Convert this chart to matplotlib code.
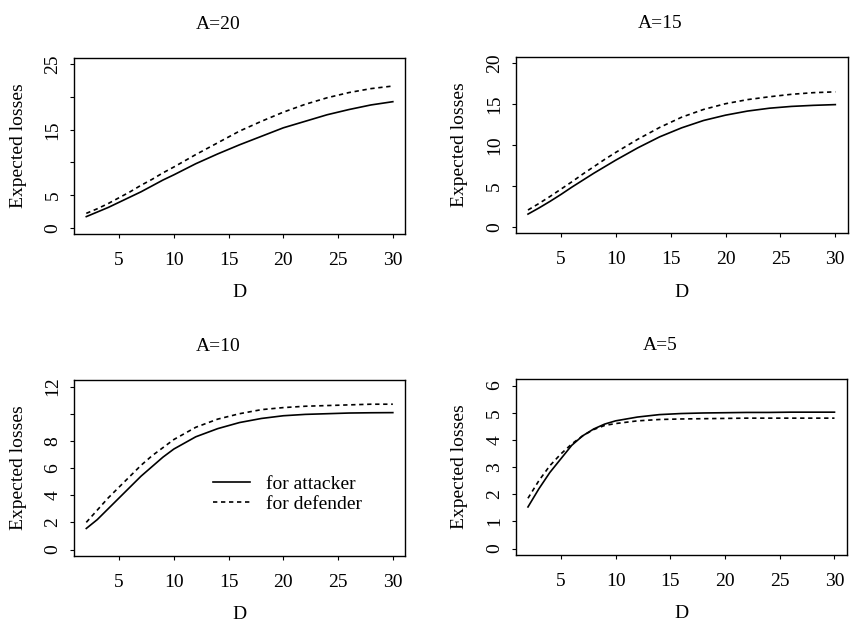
import matplotlib.pyplot as plt

plt.rcParams['font.family'] = ['Liberation Serif', 'DejaVu Serif']
plt.rcParams['font.size'] = 14

# number of defending armies
D = [2, 3, 4, 5, 6, 7, 8, 9, 10, 12, 14, 16, 18, 20, 22, 24, 26, 28, 30]

# A=20
att_20 = [1.7, 2.4, 3.1, 3.9, 4.7, 5.5, 6.4, 7.3, 8.1, 9.8, 11.3, 12.7, 14.0, 15.3, 16.3, 17.3, 18.1, 18.8, 19.3]
def_20 = [2.2, 2.9, 3.7, 4.6, 5.5, 6.5, 7.4, 8.4, 9.3, 11.2, 13.0, 14.8, 16.3, 17.7, 18.9, 19.9, 20.7, 21.3, 21.7]
# A=15
att_15 = [1.55, 2.3, 3.1, 3.95, 4.85, 5.7, 6.55, 7.35, 8.15, 9.65, 11.0, 12.1, 13.0, 13.65, 14.15, 14.5, 14.72, 14.85, 14.94]
def_15 = [2.05, 2.85, 3.7, 4.6, 5.5, 6.45, 7.35, 8.25, 9.1, 10.7, 12.15, 13.4, 14.35, 15.05, 15.55, 15.9, 16.2, 16.4, 16.5]
# A=10
att_10 = [1.55, 2.2, 3.0, 3.8, 4.6, 5.4, 6.1, 6.8, 7.4, 8.3, 8.9, 9.35, 9.65, 9.85, 9.95, 10.0, 10.05, 10.07, 10.08]
def_10 = [2.0, 2.9, 3.8, 4.6, 5.4, 6.2, 6.9, 7.5, 8.1, 9.0, 9.6, 10.0, 10.3, 10.45, 10.55, 10.6, 10.65, 10.7, 10.7]
# A=5
att_5 = [1.53, 2.2, 2.8, 3.3, 3.8, 4.15, 4.4, 4.58, 4.7, 4.84, 4.93, 4.97, 4.99, 5.0, 5.01, 5.01, 5.02, 5.02, 5.02]
def_5 = [1.85, 2.5, 3.05, 3.48, 3.85, 4.15, 4.38, 4.53, 4.6, 4.7, 4.75, 4.77, 4.78, 4.79, 4.8, 4.8, 4.8, 4.8, 4.8]

titles = ['A=20', 'A=15', 'A=10', 'A=5']
y_max = [25, 20, 12, 6]
y_ticks = [[0, 5, 10, 15, 20, 25], [0, 5, 10, 15, 20], [0, 2, 4, 6, 8, 10, 12], [0, 1, 2, 3, 4, 5, 6]]
y_labels = [['0', '5', '', '15', '', '25'], ['0', '5', '10', '15', '20'],
            ['0', '2', '4', '6', '8', '', '12'], ['0', '1', '2', '3', '4', '5', '6']]
x_ticks = [5, 10, 15, 20, 25, 30]
attacker = [att_20, att_15, att_10, att_5]
defender = [def_20, def_15, def_10, def_5]

positions = [[0.087, 0.624, 0.389, 0.283],
             [0.606, 0.6255, 0.390, 0.2835],
             [0.087, 0.1075, 0.389, 0.2825],
             [0.606, 0.1091, 0.389, 0.2825]]

fig = plt.figure(figsize=(8.51, 6.23), dpi=100)

for i in range(4):
    ax = fig.add_axes(positions[i])
    ax.plot(D, attacker[i], color='black', lw=1.2, label='for attacker')
    ax.plot(D, defender[i], color='black', lw=1.2, linestyle=(0, (2.6, 2.2)), label='for defender')

    # R-style 4% padding
    xr = D[-1] - D[0]
    ax.set_xlim(D[0] - 0.04 * xr, D[-1] + 0.04 * xr)
    ax.set_ylim(-0.04 * y_max[i], y_max[i] * 1.04)

    ax.set_xticks(x_ticks)
    ax.set_yticks(y_ticks[i])
    ax.set_yticklabels(y_labels[i])
    ax.tick_params(direction='out', length=3, width=0.8, color='black')
    ax.tick_params(axis='x', pad=10)
    ax.tick_params(axis='y', pad=6, labelrotation=90)
    for lbl in ax.get_yticklabels():
        lbl.set_va('center')
    for s in ax.spines.values():
        s.set_linewidth(1.0)

    ax.set_xlabel('D')
    ax.xaxis.set_label_coords(0.5, -0.285)
    ax.set_ylabel('Expected losses')
    ax.yaxis.set_label_coords(-0.143, 0.5)
    ax.text(0.435, 1.165, titles[i], transform=ax.transAxes, ha='center', va='baseline')

    if i == 2:
        ax.legend(loc='center left', bbox_to_anchor=(0.42, 0.352), frameon=False,
                  handlelength=1.9, handletextpad=0.8, labelspacing=0.15,
                  borderpad=0, borderaxespad=0)

plt.savefig('out.png', dpi=100)
